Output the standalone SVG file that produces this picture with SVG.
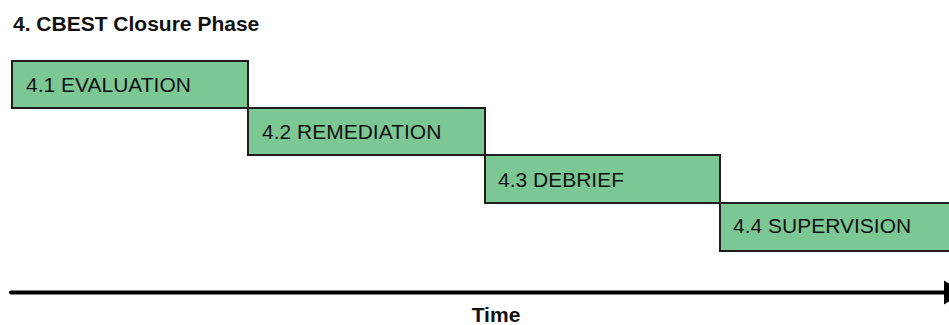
<svg xmlns="http://www.w3.org/2000/svg" width="949" height="325" viewBox="0 0 949 325">
  <style>
    .step { fill: #7cc895; stroke: #1e1e1e; stroke-width: 2; }
    .label { font-family: "Liberation Sans", Arial, sans-serif; font-size: 21px; fill: #111; }
    .heading { font-family: "Liberation Sans", Arial, sans-serif; font-size: 21px; font-weight: bold; fill: #111; }
    .axis { stroke: #000; stroke-width: 4; fill: none; stroke-linecap: round; }
  </style>
  <defs>
    <marker id="arrowHead" markerUnits="userSpaceOnUse" markerWidth="24" markerHeight="26" refX="2" refY="13" orient="auto">
      <path d="M2,1 L22,13 L2,25 Z" fill="#000"/>
    </marker>
  </defs>
  <rect width="949" height="325" fill="#fff"/>

  <text class="heading" x="13" y="31">4. CBEST Closure Phase</text>

  <g id="evaluation">
    <rect class="step" x="12" y="61" width="236" height="47"/>
    <text class="label" x="26" y="92">4.1 EVALUATION</text>
  </g>
  <g id="remediation">
    <rect class="step" x="248" y="108" width="237" height="47"/>
    <text class="label" x="262" y="139">4.2 REMEDIATION</text>
  </g>
  <g id="debrief">
    <rect class="step" x="485" y="155" width="235" height="48"/>
    <text class="label" x="498" y="187">4.3 DEBRIEF</text>
  </g>
  <g id="supervision">
    <rect class="step" x="720" y="203" width="240" height="48"/>
    <text class="label" x="733" y="233">4.4 SUPERVISION</text>
  </g>

  <g id="connectors">
    <path class="axis" d="M11,292.5 H944" marker-end="url(#arrowHead)"/>
  </g>

  <text class="heading" x="496" y="322" text-anchor="middle">Time</text>
</svg>
